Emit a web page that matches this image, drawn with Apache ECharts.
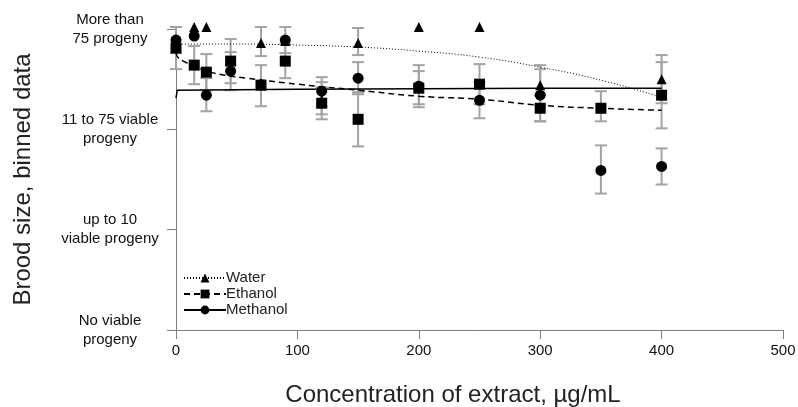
<!DOCTYPE html>
<html>
<head>
<meta charset="utf-8">
<script src="https://cdn.jsdelivr.net/npm/echarts@6/dist/echarts.min.js"></script>
<style>
  html, body { margin: 0; padding: 0; background: #fff; }
  #chart { width: 798px; height: 407px; }
</style>
</head>
<body>
<div id="chart"></div>
<script>
// tick labels for the binned y axis (0..3)
const yTickLabels = [
  'No viable\nprogeny',
  'up to 10\nviable progeny',
  '11 to 75 viable\nprogeny',
  'More than\n75 progeny'
];

// measured points [concentration, bin]
const waterPts = [[15, 3.02], [25, 3.02], [70, 2.86], [90, 2.88], [120, 2.29], [150, 2.86],
  [200, 3.02], [250, 3.02], [300, 2.44], [400, 2.50]];
const ethanolPts = [[0, 2.81], [15, 2.64], [25, 2.57], [45, 2.68], [70, 2.44], [90, 2.68],
  [120, 2.26], [150, 2.10], [200, 2.41], [250, 2.45], [300, 2.21], [350, 2.21], [400, 2.34]];
const methanolPts = [[0, 2.89], [15, 2.93], [25, 2.34], [45, 2.58], [90, 2.89], [120, 2.38],
  [150, 2.51], [200, 2.43], [250, 2.29], [300, 2.34], [350, 1.59], [400, 1.63]];

// error bars [concentration, low, high]
const waterErr = [[70, 2.73, 3.02], [120, 2.15, 2.47], [150, 2.74, 3.01], [300, 2.24, 2.64], [400, 2.26, 2.74]];
const ethanolErr = [[0, 2.60, 3.02], [15, 2.45, 2.83], [25, 2.39, 2.75], [45, 2.46, 2.90], [70, 2.23, 2.64],
  [90, 2.51, 2.85], [120, 2.10, 2.42], [150, 1.83, 2.37], [200, 2.25, 2.58], [250, 2.25, 2.65],
  [300, 2.08, 2.34], [350, 2.08, 2.38], [400, 2.01, 2.67]];
const methanolErr = [[0, 2.76, 3.02], [25, 2.18, 2.51], [45, 2.39, 2.77], [90, 2.76, 3.02], [120, 2.23, 2.52],
  [150, 2.35, 2.67], [200, 2.22, 2.64], [250, 2.11, 2.47], [300, 2.08, 2.60], [350, 1.36, 1.84], [400, 1.45, 1.81]];

// fitted curves
const waterFit = [[0, 2.85], [50, 2.85], [100, 2.84], [150, 2.82], [200, 2.78], [250, 2.72],
  [300, 2.62], [350, 2.49], [400, 2.32]];
const ethanolFit = [[0, 2.76], [2, 2.71], [6, 2.68], [15, 2.63], [26, 2.58], [40, 2.54], [58, 2.51],
  [100, 2.45], [150, 2.39], [200, 2.33], [250, 2.30], [300, 2.24], [350, 2.21], [400, 2.19]];
const methanolFit = [[0, 2.31], [1, 2.39], [2, 2.395], [100, 2.40], [200, 2.405], [300, 2.41], [400, 2.41]];

const chart = echarts.init(document.getElementById('chart'));

const errColor = '#a3a3a3';
function errRender(params, api) {
  const x = api.value(0);
  const lo = api.coord([x, api.value(1)]);
  const hi = api.coord([x, api.value(2)]);
  const w = 6;
  const style = { stroke: errColor, lineWidth: 2 };
  return {
    type: 'group',
    children: [
      { type: 'line', shape: { x1: lo[0], y1: lo[1], x2: hi[0], y2: hi[1] }, style },
      { type: 'line', shape: { x1: lo[0] - w, y1: lo[1], x2: lo[0] + w, y2: lo[1] }, style },
      { type: 'line', shape: { x1: hi[0] - w, y1: hi[1], x2: hi[0] + w, y2: hi[1] }, style }
    ]
  };
}
const errSeries = (name, data) => ({
  name, type: 'custom', renderItem: errRender, data,
  encode: { x: 0, y: [1, 2] }, z: 1, silent: true, clip: false
});

const pointSeries = (name, data, symbol, size, z) => ({
  name, type: 'scatter', data, symbol, symbolSize: size, clip: false, z,
  itemStyle: { color: '#000', opacity: 1 }
});

chart.setOption({
  animation: false,
  textStyle: { fontFamily: 'Liberation Sans, Arial, sans-serif' },
  grid: { left: 176, right: 15, top: 29, bottom: 77, outerBoundsMode: 'none', containLabel: false },
  legend: {
    data: ['Water', 'Ethanol', 'Methanol'],
    orient: 'vertical',
    left: 178,
    top: 265,
    itemWidth: 42,
    itemHeight: 11,
    itemGap: 0,
    textStyle: { fontSize: 15, color: '#222', lineHeight: 16, padding: [0, 0, 0, -5] }
  },
  xAxis: {
    type: 'value',
    min: 0, max: 500, interval: 100,
    name: 'Concentration of extract, µg/mL',
    nameLocation: 'middle',
    nameGap: 53,
    nameTextStyle: { fontSize: 24, color: '#222', padding: [0, 53, 0, 0] },
    axisLine: { lineStyle: { color: '#7f7f7f', width: 1 } },
    axisTick: { show: true, length: 9, lineStyle: { color: '#7f7f7f' } },
    axisLabel: { fontSize: 15, color: '#111', margin: 13 },
    splitLine: { show: false }
  },
  yAxis: {
    type: 'value',
    min: 0, max: 3, interval: 1,
    name: 'Brood size, binned data',
    nameLocation: 'middle',
    nameGap: 141,
    nameTextStyle: { fontSize: 24, color: '#222' },
    axisLine: { show: true, lineStyle: { color: '#7f7f7f', width: 1 } },
    axisTick: { show: true, length: 9, lineStyle: { color: '#7f7f7f' } },
    axisLabel: {
      fontSize: 15, color: '#111', align: 'center', margin: 66, lineHeight: 19,
      formatter: (v) => yTickLabels[Math.round(v)]
    },
    splitLine: { show: false }
  },
  series: [
    errSeries('waterErr', waterErr),
    errSeries('ethanolErr', ethanolErr),
    errSeries('methanolErr', methanolErr),
    {
      name: 'Water', type: 'line', data: waterFit, smooth: true, showSymbol: false,
      symbol: 'triangle', symbolSize: 10, z: 2,
      lineStyle: { color: '#000', width: 1, type: [1, 2] }, itemStyle: { color: '#000' }
    },
    {
      name: 'Ethanol', type: 'line', data: ethanolFit, smooth: true, showSymbol: false,
      symbol: 'rect', symbolSize: 10, z: 2,
      lineStyle: { color: '#000', width: 1.5, type: [6, 4] }, itemStyle: { color: '#000' }
    },
    {
      name: 'Methanol', type: 'line', data: methanolFit, smooth: false, showSymbol: false,
      symbol: 'circle', symbolSize: 10, z: 2,
      lineStyle: { color: '#000', width: 1.5 }, itemStyle: { color: '#000' }
    },
    pointSeries('waterPts', waterPts, 'triangle', 10, 3),
    pointSeries('ethanolPts', ethanolPts, 'rect', 11, 4),
    pointSeries('methanolPts', methanolPts, 'circle', 11, 5)
  ]
});
</script>
</body>
</html>
